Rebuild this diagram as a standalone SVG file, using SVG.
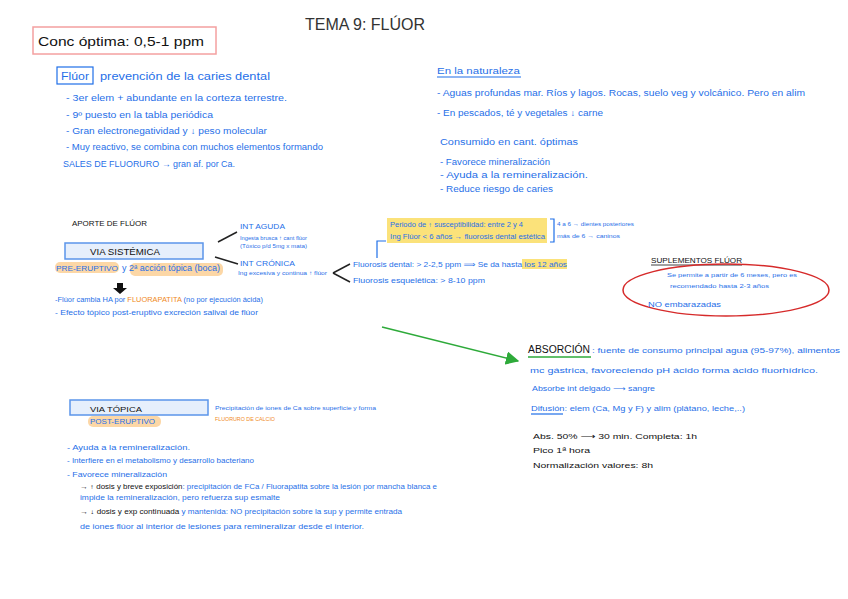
<svg xmlns="http://www.w3.org/2000/svg" width="848" height="599" viewBox="0 0 848 599">
<defs>
<style>
text{font-family:"Liberation Sans","DejaVu Sans",sans-serif}
.b{fill:#1f6fe8;font-size:8.5px}
.s{fill:#1f6fe8;font-size:6px}
.k{fill:#111;font-size:9px}
.o{fill:#f08a1c}
.box{fill:#e6effc;stroke:#5b95ea;stroke-width:1.5}
.ln{stroke:#222;stroke-width:1.5;fill:none}
.bl{stroke:#1f6fe8;stroke-width:1.2;fill:none}
.hy{fill:#fbe27a}
.ho{fill:#fcd7a6}
</style>
<marker id="ga" viewBox="0 0 10 10" refX="9" refY="5" markerWidth="9" markerHeight="9" orient="auto"><path d="M0,0L10,5L0,10z" fill="#2eaa3a"/></marker>
</defs>
<rect width="848" height="599" fill="#fff"/>

<text x="305" y="30" style="font-size:16px;fill:#333">TEMA 9: FLÚOR</text>

<g id="conc">
<rect x="33" y="27" width="183" height="27" fill="#fff" stroke="#f4a0a0" stroke-width="1.5"/>
<text x="38" y="46" style="font-size:13px;fill:#111" textLength="166" lengthAdjust="spacingAndGlyphs">Conc óptima: 0,5-1 ppm</text>
</g>

<g id="fluor">
<rect x="57" y="67" width="36" height="17" fill="none" stroke="#1f6fe8" stroke-width="1.2"/>
<text x="61" y="80" class="b" style="font-size:10px" textLength="28" lengthAdjust="spacingAndGlyphs">Flúor</text>
<text x="100" y="80" class="b" style="font-size:10px" textLength="170" lengthAdjust="spacingAndGlyphs">prevención de la caries dental</text>
<text x="66" y="101" class="b" textLength="221" lengthAdjust="spacingAndGlyphs">- 3er elem + abundante en la corteza terrestre.</text>
<text x="66" y="118" class="b" textLength="147" lengthAdjust="spacingAndGlyphs">- 9º puesto en la tabla periódica</text>
<text x="66" y="134" class="b" textLength="201" lengthAdjust="spacingAndGlyphs">- Gran electronegatividad y ↓ peso molecular</text>
<text x="66" y="150" class="b" textLength="257" lengthAdjust="spacingAndGlyphs">- Muy reactivo, se combina con muchos elementos formando</text>
<text x="63" y="167" class="b" textLength="172" lengthAdjust="spacingAndGlyphs">SALES DE FLUORURO → gran af. por Ca.</text>
</g>

<g id="naturaleza">
<text x="437" y="74" class="b" textLength="83" lengthAdjust="spacingAndGlyphs">En la naturaleza</text>
<line x1="437" y1="77" x2="521" y2="77" class="bl"/>
<text x="437" y="96" class="b" textLength="368" lengthAdjust="spacingAndGlyphs">- Aguas profundas mar. Ríos y lagos. Rocas, suelo veg y volcánico. Pero en alim</text>
<text x="437" y="116" class="b" textLength="166" lengthAdjust="spacingAndGlyphs">- En pescados, té y vegetales ↓ carne</text>
<text x="440" y="145" class="b" textLength="138" lengthAdjust="spacingAndGlyphs">Consumido en cant. óptimas</text>
<text x="440" y="165" class="b" textLength="110" lengthAdjust="spacingAndGlyphs">- Favorece mineralización</text>
<text x="440" y="178" class="b" textLength="148" lengthAdjust="spacingAndGlyphs">- Ayuda a la remineralización.</text>
<text x="440" y="192" class="b" textLength="113" lengthAdjust="spacingAndGlyphs">- Reduce riesgo de caries</text>
</g>

<g id="aporte">
<text x="72" y="226" class="k" style="font-size:8px" textLength="75" lengthAdjust="spacingAndGlyphs">APORTE DE FLÚOR</text>
</g>

<g id="via-sistemica">
<rect x="65" y="243" width="138" height="16" class="box"/>
<text x="90" y="255" class="k" textLength="70" lengthAdjust="spacingAndGlyphs">VIA SISTÉMICA</text>
<rect x="55" y="262" width="64" height="11" rx="5" class="ho"/>
<rect x="130" y="263" width="93" height="13" rx="5" class="ho"/>
<text x="56" y="271" class="b" style="font-size:8px" textLength="62" lengthAdjust="spacingAndGlyphs">PRE-ERUPTIVO</text>
<text x="122" y="271" class="b" textLength="98" lengthAdjust="spacingAndGlyphs">y 2ª acción tópica (boca)</text>
<path d="M117,283h6v5h4l-7,6l-7,-6h4z" fill="#111"/>
<text x="55" y="302" class="b" style="font-size:7px" textLength="208" lengthAdjust="spacingAndGlyphs">-Flúor cambia HA por <tspan class="o">FLUORAPATITA</tspan> (no por ejecución ácida)</text>
<text x="55" y="315" class="b" style="font-size:7px" textLength="203" lengthAdjust="spacingAndGlyphs">- Efecto tópico post-eruptivo excreción salival de flúor</text>
</g>

<g id="int-aguda">
<text x="240" y="229" class="b" style="font-size:8px" textLength="45" lengthAdjust="spacingAndGlyphs">INT AGUDA</text>
<text x="240" y="240" class="s" textLength="67" lengthAdjust="spacingAndGlyphs">Ingesta brusca ↑ cant flúor</text>
<text x="240" y="248" class="s" textLength="67" lengthAdjust="spacingAndGlyphs">(Tóxico p/d 5mg x mata)</text>
</g>

<g id="int-cronica">
<text x="240" y="266" class="b" style="font-size:8px" textLength="55" lengthAdjust="spacingAndGlyphs">INT CRÓNICA</text>
<text x="238" y="275" class="s" textLength="89" lengthAdjust="spacingAndGlyphs">Ing excesiva y continua ↑ flúor</text>
</g>

<g id="fluorosis">
<rect x="387" y="218" width="160" height="25" class="hy"/>
<text x="390" y="227" class="b" style="font-size:6.5px" textLength="133" lengthAdjust="spacingAndGlyphs">Periodo de ↑ susceptibilidad: entre 2 y 4</text>
<text x="390" y="239" class="b" style="font-size:7px" textLength="155" lengthAdjust="spacingAndGlyphs">Ing Flúor &lt; 6 años → fluorosis dental estética</text>
<path d="M550,219h4v23h-4" class="bl"/>
<text x="557" y="226" class="s" textLength="77" lengthAdjust="spacingAndGlyphs">4 a 6 → dientes posteriores</text>
<text x="557" y="238" class="s" textLength="63" lengthAdjust="spacingAndGlyphs">más de 6 → caninos</text>
<rect x="522" y="259" width="45" height="10" class="hy"/>
<text x="353" y="267" class="b" style="font-size:7.5px" textLength="214" lengthAdjust="spacingAndGlyphs">Fluorosis dental: &gt; 2-2,5 ppm ⟹ Se da hasta los 12 años</text>
<text x="353" y="283" class="b" style="font-size:7.5px" textLength="132" lengthAdjust="spacingAndGlyphs">Fluorosis esquelética: &gt; 8-10 ppm</text>
</g>

<g id="suplementos">
<text x="651" y="263" class="k" style="font-size:7.5px" textLength="91" lengthAdjust="spacingAndGlyphs">SUPLEMENTOS FLÚOR</text>
<line x1="651" y1="265" x2="742" y2="265" stroke="#111" stroke-width="0.8"/>
<ellipse cx="726" cy="290" rx="103" ry="26" fill="none" stroke="#d62a2a" stroke-width="1.5"/>
<text x="667" y="277" class="s" textLength="130" lengthAdjust="spacingAndGlyphs">Se permite a partir de 6 meses, pero es</text>
<text x="670" y="288" class="s" textLength="99" lengthAdjust="spacingAndGlyphs">recomendado hasta 2-3 años</text>
<text x="648" y="307" class="b" style="font-size:8px" textLength="73" lengthAdjust="spacingAndGlyphs">NO embarazadas</text>
</g>

<g id="absorcion">
<text x="528" y="353" class="k" style="font-size:10px" textLength="62" lengthAdjust="spacingAndGlyphs">ABSORCIÓN</text>
<line x1="528" y1="357" x2="591" y2="357" stroke="#2eaa3a" stroke-width="1.5"/>
<text x="592" y="353" class="b" style="font-size:8px" textLength="248" lengthAdjust="spacingAndGlyphs">: fuente de consumo principal agua (95-97%), alimentos</text>
<text x="530" y="373" class="b" style="font-size:8px" textLength="288" lengthAdjust="spacingAndGlyphs">mc gástrica, favoreciendo pH ácido forma ácido fluorhídrico.</text>
<text x="532" y="391" class="b" style="font-size:7px" textLength="123" lengthAdjust="spacingAndGlyphs">Absorbe int delgado ⟶ sangre</text>
<text x="531" y="411" class="b" style="font-size:8px" textLength="214" lengthAdjust="spacingAndGlyphs">Difusión: elem (Ca, Mg y F) y alim (plátano, leche,..)</text>
<line x1="531" y1="414" x2="563" y2="414" class="bl"/>
<text x="533" y="439" class="k" style="font-size:8px" textLength="164" lengthAdjust="spacingAndGlyphs">Abs. 50% ⟶ 30 min. Completa: 1h</text>
<text x="533" y="453" class="k" style="font-size:8px" textLength="57" lengthAdjust="spacingAndGlyphs">Pico 1ª hora</text>
<text x="533" y="468" class="k" style="font-size:8px" textLength="120" lengthAdjust="spacingAndGlyphs">Normalización valores: 8h</text>
</g>

<g id="via-topica">
<rect x="70" y="400" width="138" height="15" class="box"/>
<text x="90" y="412" class="k" style="font-size:8px" textLength="52" lengthAdjust="spacingAndGlyphs">VIA TÓPICA</text>
<rect x="88" y="416" width="73" height="11" rx="5" class="ho"/>
<text x="90" y="424" class="b" style="font-size:7px" textLength="65" lengthAdjust="spacingAndGlyphs">POST-ERUPTIVO</text>
<text x="215" y="410" class="s" textLength="161" lengthAdjust="spacingAndGlyphs">Precipitación de iones de Ca sobre superficie y forma</text>
<text x="215" y="421" class="s o" textLength="60" lengthAdjust="spacingAndGlyphs">FLUORURO DE CALCIO</text>
<text x="67" y="450" class="b" style="font-size:7.5px" textLength="123" lengthAdjust="spacingAndGlyphs">- Ayuda a la remineralización.</text>
<text x="67" y="463" class="b" style="font-size:7.5px" textLength="187" lengthAdjust="spacingAndGlyphs">- Interfiere en el metabolismo y desarrollo bacteriano</text>
<text x="67" y="477" class="b" style="font-size:7.5px" textLength="100" lengthAdjust="spacingAndGlyphs">- Favorece mineralización</text>
<text x="80" y="489" class="b" style="font-size:6.5px" textLength="357" lengthAdjust="spacingAndGlyphs"><tspan fill="#111">→ ↑ dosis y breve exposición</tspan>: precipitación de FCa / Fluorapatita sobre la lesión por mancha blanca e</text>
<text x="80" y="500" class="b" style="font-size:6.5px" textLength="200" lengthAdjust="spacingAndGlyphs">impide la remineralización, pero refuerza sup esmalte</text>
<text x="80" y="514" class="b" style="font-size:6.5px" textLength="322" lengthAdjust="spacingAndGlyphs"><tspan fill="#111">→ ↓ dosis y exp continuada</tspan> y mantenida: NO precipitación sobre la sup y permite entrada</text>
<text x="80" y="529" class="b" style="font-size:7px" textLength="284" lengthAdjust="spacingAndGlyphs">de iones flúor al interior de lesiones para remineralizar desde el interior.</text>
</g>

<g id="connectors">
<line x1="218" y1="242" x2="237" y2="232" class="ln"/>
<line x1="215" y1="257" x2="238" y2="264" class="ln"/>
<line x1="333" y1="273" x2="350" y2="264" class="ln"/>
<line x1="333" y1="273" x2="350" y2="282" class="ln"/>
<path d="M377,258V241h9" class="bl"/>
<line x1="382" y1="327" x2="518" y2="361" stroke="#2eaa3a" stroke-width="1.5" marker-end="url(#ga)"/>
</g>
</svg>
